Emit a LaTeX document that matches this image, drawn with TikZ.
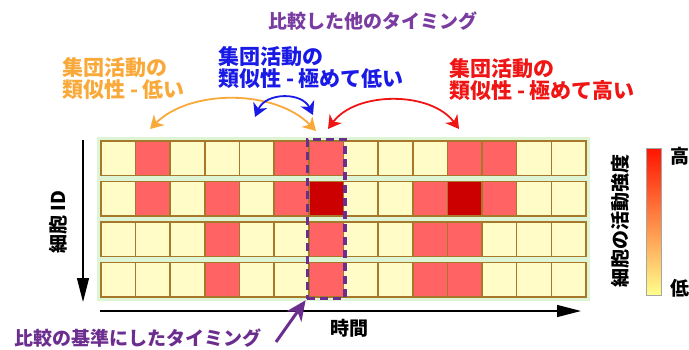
\documentclass[tikz,border=0pt]{standalone}
\usepackage{fontspec}
\setmainfont{Noto Sans CJK JP}
\usetikzlibrary{arrows.meta,positioning,fit}

\definecolor{cellc0}{HTML}{FFFCC8}
\definecolor{cellc1}{HTML}{FF6363}
\definecolor{cellc2}{HTML}{CC0000}
\definecolor{cellline}{HTML}{A8782A}
\definecolor{rowglow}{HTML}{DDF5D5}
\definecolor{lblorange}{HTML}{F9A93A}
\definecolor{lblblue}{HTML}{1A1AE6}
\definecolor{lblred}{HTML}{F01515}
\definecolor{lblpurple}{HTML}{6B2E8F}
\definecolor{titlepurple}{HTML}{7A3CA0}

\tikzset{
	cell/.style={draw=cellline, line width=1.6pt, minimum width=34.64pt, minimum height=34.5pt,
		inner sep=0pt, outer sep=0pt, anchor=north west},
	lbl/.style={font=\fontsize{21}{22}\selectfont\bfseries, align=left, inner sep=0pt},
	axis/.style={line width=1.3pt, -{Triangle[length=24pt,width=12pt]}},
	simarc/.style={line width=1.8pt, {Stealth[length=13pt,width=15pt,inset=4pt]}-{Stealth[length=13pt,width=15pt,inset=4pt]}},
}

\begin{document}
\begin{tikzpicture}[x=1pt,y=-1pt]% {{{ activity raster
	\useasboundingbox (0,0) rectangle (689,349);
	\fill[rowglow] (97,137) rectangle (590,301);

	% cells: 0 low, 1 high, 2 very high
	\foreach \row/\vals in {1/{0,1,0,0,0,1,1,0,0,0,1,1,0,0},
			2/{0,1,0,1,0,1,2,0,0,1,2,1,0,0},
			3/{0,0,0,1,0,0,1,0,0,1,1,0,0,0},
			4/{0,0,0,1,0,0,1,0,0,1,1,0,0,0}}
		\foreach \v [count=\col] in \vals
			\node[cell, fill=cellc\v] (cell-\row-\col) at ({101+34.64*(\col-1)}, {141+40.5*(\row-1)}) {};

	\node[fit=(cell-1-7)(cell-4-7), inner sep=1.5pt, draw=lblpurple, line width=3.5pt,
		dash pattern=on 8pt off 5pt] (refbox) {};

	% axes
	\coordinate (idtop) at (83,140);
	\coordinate (idbot) at (83,302);
	\draw[axis] (idtop) -- (idbot);
	\node[rotate=90, font=\fontsize{19}{22}\selectfont\bfseries] (idlbl) at (58,222) {細胞 ID};

	\coordinate (tstart) at (100,311);
	\coordinate (tend) at (581,311);
	\draw[axis] (tstart) -- (tend);
	\node[font=\fontsize{19}{22}\selectfont\bfseries] (timelbl) at (349,328) {時間};

	% labels
	\node[lbl, text=titlepurple, font=\fontsize{19}{22}\selectfont\bfseries] (title) at (373,21) {比較した他のタイミング};
	\node[lbl, text=lblorange, anchor=west] (lowlbl) at (62,79) {集団活動の\\類似性 - 低い};
	\node[lbl, text=lblblue, anchor=west] (vlowlbl) at (218,68) {集団活動の\\類似性 - 極めて低い};
	\node[lbl, text=lblred, anchor=west] (vhighlbl) at (449,80) {集団活動の\\類似性 - 極めて高い};

	% similarity arcs
	\coordinate (oref) at (316,131);
	\coordinate (oend) at (150,129);
	\coordinate (bref) at (313,115);
	\coordinate (bend) at (255,117);
	\coordinate (rref) at (328,129);
	\coordinate (rend) at (459,129);
	\draw[simarc, lblorange] (oend) .. controls (190,89) and (275,89) .. (oref);
	\draw[simarc, lblblue] (bend) .. controls (266,92) and (302,92) .. (bref);
	\draw[simarc, lblred] (rref) .. controls (356,91) and (431,91) .. (rend);

	% reference timing
	\node[lbl, text=lblpurple, font=\fontsize{19}{22}\selectfont\bfseries] (reflbl) at (138,338) {比較の基準にしたタイミング};
	\coordinate (refstart) at (276,342);
	\draw[lblpurple, line width=3pt, -{Stealth[length=20pt,width=18pt,inset=6pt]}] (refstart) -- (refbox.south west);

	% colour scale
	\node[minimum width=15pt, minimum height=147pt, inner sep=0pt, draw=gray!70, thin,
		top color=red!85!orange, middle color=orange!60!red!80, bottom color=yellow!45] (bar) at (653.5,221.5) {};
	\node[font=\fontsize{19}{22}\selectfont\bfseries, anchor=north west] (hilbl) at ([xshift=6pt,yshift=4pt]bar.north east) {高};
	\node[font=\fontsize{19}{22}\selectfont\bfseries, anchor=south west] (lolbl) at ([xshift=6pt,yshift=-6pt]bar.south east) {低};
	\node[rotate=90, font=\fontsize{19}{22}\selectfont\bfseries] (barlbl) at (620,221) {細胞の活動強度};
\end{tikzpicture}
\end{document}
